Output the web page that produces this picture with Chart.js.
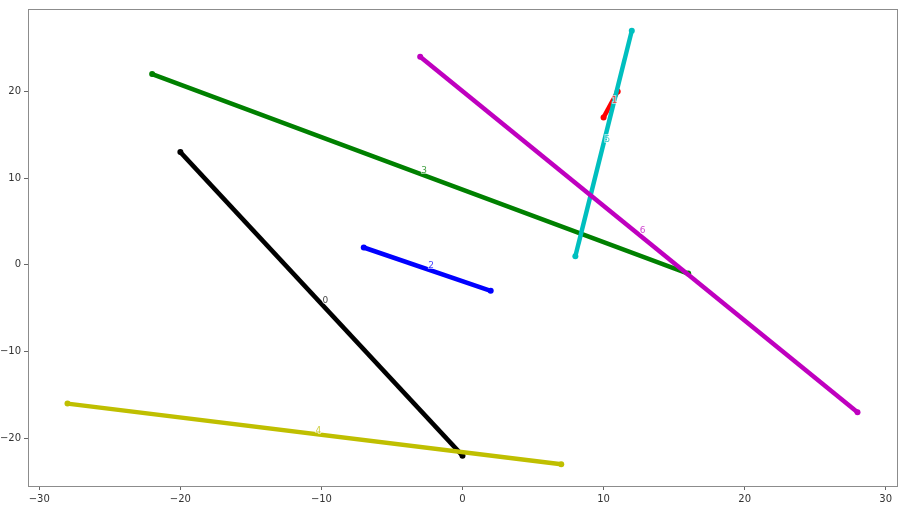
<!DOCTYPE html>
<html>
<head>
<meta charset="utf-8">
<script src="https://cdn.jsdelivr.net/npm/chart.js@4/dist/chart.umd.min.js"></script>
<style>
html,body{margin:0;padding:0;background:#fff;}
#wrap{width:908px;height:512px;position:relative;}
</style>
</head>
<body>
<div id="wrap"><canvas id="c" width="908" height="512"></canvas></div>
<script>
// Segment labels
const segmentLabels = ["0", "1", "2", "3", "4", "5", "6"];
// Start and end points of each segment
const startX = [-20, 10, -7, -22, -28, 8, -3];
const startY = [13, 17, 2, 22, -16, 1, 24];
const endX = [0, 11, 2, 16, 7, 12, 28];
const endY = [-22, 20, -3, -1, -23, 27, -17];
const segmentColors = ["#000000", "#ff0000", "#0000ff", "#008000", "#bfbf00", "#00bfbf", "#bf00bf"];
// Axis ticks
const xTicks = [-30, -20, -10, 0, 10, 20, 30];
const yTicks = [-20, -10, 0, 10, 20];
const xRange = [-30.8, 30.8];
const yRange = [-25.5, 29.5];

const datasets = segmentLabels.map((lab, i) => ({
  label: lab,
  data: [{x: startX[i], y: startY[i]}, {x: endX[i], y: endY[i]}],
  showLine: true,
  borderColor: segmentColors[i],
  backgroundColor: segmentColors[i],
  borderWidth: 4.5,
  pointRadius: 3,
  pointBorderWidth: 0,
  pointHoverRadius: 3,
  order: segmentLabels.length - i
}));

const fmt = v => (v < 0 ? '\u2212' + Math.abs(v) : String(v));

const framePlugin = {
  id: 'frame',
  afterDraw(chart) {
    const {ctx, chartArea: a} = chart;
    ctx.save();
    ctx.strokeStyle = '#8c8c8c';
    ctx.lineWidth = 1;
    ctx.strokeRect(Math.round(a.left) + 0.5, Math.round(a.top) + 0.5, Math.round(a.right - a.left), Math.round(a.bottom - a.top));
    ctx.restore();
  }
};

const labelPlugin = {
  id: 'segLabels',
  afterDatasetsDraw(chart) {
    const {ctx, scales} = chart;
    ctx.save();
    ctx.font = '9px "DejaVu Sans"';
    ctx.textAlign = 'left';
    ctx.textBaseline = 'alphabetic';
    segmentLabels.forEach((lab, i) => {
      const mx = (startX[i] + endX[i]) / 2;
      const my = (startY[i] + endY[i]) / 2;
      const px = scales.x.getPixelForValue(mx) + 1;
      const py = scales.y.getPixelForValue(my) - 1;
      ctx.globalAlpha = 1;
      ctx.lineWidth = 2;
      ctx.strokeStyle = 'rgba(255,255,255,0.6)';
      ctx.strokeText(lab, px, py);
      ctx.fillStyle = segmentColors[i];
      ctx.globalAlpha = 0.75;
      ctx.fillText(lab, px, py);
    });
    ctx.restore();
  }
};

new Chart(document.getElementById('c'), {
  type: 'scatter',
  data: {datasets},
  options: {
    responsive: false,
    animation: false,
    devicePixelRatio: 1,
    layout: {padding: {top: 7, right: 11, left: 0, bottom: 0}},
    plugins: {legend: {display: false}, tooltip: {enabled: false}},
    scales: {
      x: {
        type: 'linear',
        min: xRange[0], max: xRange[1],
        afterBuildTicks: s => { s.ticks = xTicks.map(v => ({value: v})); },
        afterFit: s => { s.height = 26; },
        grid: {display: true, drawOnChartArea: false, drawTicks: true, tickLength: 4, color: '#666'},
        border: {display: true, color: '#8c8c8c'},
        ticks: {color: '#333', font: {family: 'DejaVu Sans', size: 10}, padding: 3, maxRotation: 0, callback: v => fmt(v)}
      },
      y: {
        type: 'linear',
        min: yRange[0], max: yRange[1],
        afterBuildTicks: s => { s.ticks = yTicks.map(v => ({value: v})); },
        afterFit: s => { s.width = 28; },
        grid: {display: true, drawOnChartArea: false, drawTicks: true, tickLength: 4, color: '#666'},
        border: {display: true, color: '#8c8c8c'},
        ticks: {color: '#333', font: {family: 'DejaVu Sans', size: 10}, padding: 3, callback: v => fmt(v)}
      }
    }
  },
  plugins: [labelPlugin, framePlugin]
});
</script>
</body>
</html>
